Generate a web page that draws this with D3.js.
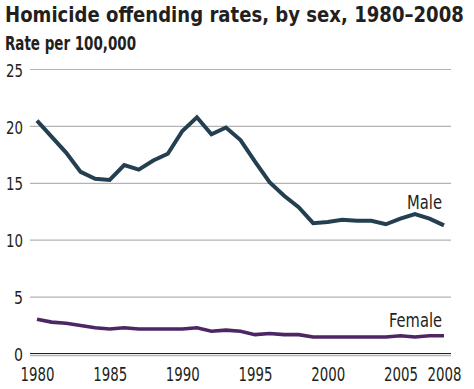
<!DOCTYPE html>
<html>
<head>
<meta charset="utf-8">
<script src="https://cdn.jsdelivr.net/npm/d3@7"></script>
<style>
  body { margin: 0; background: #fff; }
  text { font-family: "Liberation Sans Narrow", "DejaVu Sans Condensed", "Open Sans", sans-serif; fill: #231f20; }
</style>
</head>
<body>
<div id="chart-area"></div>
<script>
// Data
let years = d3.range(1980, 2009);
let male = [20.5, 19.1, 17.7, 16.0, 15.4, 15.3, 16.6, 16.2, 17.0, 17.6,
	19.6, 20.8, 19.3, 19.9, 18.8, 16.9, 15.1, 13.9, 12.9, 11.5,
	11.6, 11.8, 11.7, 11.7, 11.4, 11.9, 12.3, 11.9, 11.3];
let female = [3.05, 2.8, 2.7, 2.5, 2.3, 2.2, 2.3, 2.2, 2.2, 2.2,
	2.2, 2.3, 2.0, 2.1, 2.0, 1.7, 1.8, 1.7, 1.7, 1.5,
	1.5, 1.5, 1.5, 1.5, 1.5, 1.6, 1.5, 1.6, 1.6];
let yTicks = [0, 5, 10, 15, 20, 25];
let xTicks = [1980, 1985, 1990, 1995, 2000, 2005, 2008];

let width = 474,
	height = 389;

let svg = d3.select("#chart-area")
	.append("svg")
	.attr("width", width)
	.attr("height", height);

// Scales
let x = d3.scaleLinear().domain([1980, 2008]).range([37, 444]);
let y = d3.scaleLinear().domain([0, 25]).range([354, 69.5]);

// Title: squeeze it horizontally so it fits like the condensed original
let title = svg.append("text")
	.attr("x", 0).attr("y", 0)
	.attr("font-size", 21).attr("font-weight", "bold")
	.text("Homicide offending rates, by sex, 1980–2008");
let titleW = title.node().getComputedTextLength();
title.attr("transform", "translate(5,22) scale(" + (459 / titleW) + ",1)");

svg.append("text")
	.attr("x", 5).attr("y", 50)
	.attr("font-size", 19).attr("font-weight", "bold")
	.attr("textLength", 131).attr("lengthAdjust", "spacingAndGlyphs")
	.text("Rate per 100,000");

// Gridlines
svg.selectAll(".grid")
	.data(yTicks)
	.enter()
	.append("line")
	.attr("class", "grid")
	.attr("x1", 30).attr("x2", 451)
	.attr("y1", d => y(d) + (d === 0 ? 1.5 : 0))
	.attr("y2", d => y(d) + (d === 0 ? 1.5 : 0))
	.attr("stroke", "#b3b3b3")
	.attr("stroke-width", d => d === 0 ? 1.6 : 1.2);

// baseline
svg.append("line")
	.attr("x1", 30).attr("x2", 451)
	.attr("y1", y(0) - 0.5).attr("y2", y(0) - 0.5)
	.attr("stroke", "#231f20")
	.attr("stroke-width", 1.2);

// Y axis labels
let yAxis = d3.axisLeft(y).tickValues(yTicks).tickSize(0).tickPadding(0);
let yGroup = svg.append("g")
	.attr("transform", "translate(23,0)")
	.call(yAxis)
	.attr("font-family", null);
yGroup.select(".domain").remove();
yGroup.selectAll("text")
	.attr("font-size", 18.5)
	.attr("dy", "0.36em")
	.attr("textLength", d => d < 10 ? 9 : 17)
	.attr("lengthAdjust", "spacingAndGlyphs");

// X axis labels
let xAxis = d3.axisBottom(x).tickValues(xTicks).tickSize(0).tickPadding(0).tickFormat(d3.format("d"));
let xGroup = svg.append("g")
	.attr("transform", "translate(0,367)")
	.call(xAxis)
	.attr("font-family", null);
xGroup.select(".domain").remove();
xGroup.selectAll("text")
	.attr("font-size", 20)
	.attr("dy", "0.72em")
	.attr("textLength", 34).attr("lengthAdjust", "spacingAndGlyphs");

// Lines
let line = d3.line()
	.x((d, i) => x(years[i]))
	.y(d => y(d));

svg.append("path")
	.datum(female)
	.attr("fill", "none")
	.attr("stroke", "#4e2665")
	.attr("stroke-width", 3.6)
	.attr("d", line);

svg.append("path")
	.datum(male)
	.attr("fill", "none")
	.attr("stroke", "#233f50")
	.attr("stroke-width", 4)
	.attr("d", line);

// Series labels
svg.append("text")
	.attr("x", 442).attr("y", 209)
	.attr("text-anchor", "end")
	.attr("font-size", 20)
	.attr("textLength", 35).attr("lengthAdjust", "spacingAndGlyphs")
	.text("Male");

svg.append("text")
	.attr("x", 442).attr("y", 327)
	.attr("text-anchor", "end")
	.attr("font-size", 20)
	.attr("textLength", 53).attr("lengthAdjust", "spacingAndGlyphs")
	.text("Female");
</script>
</body>
</html>
